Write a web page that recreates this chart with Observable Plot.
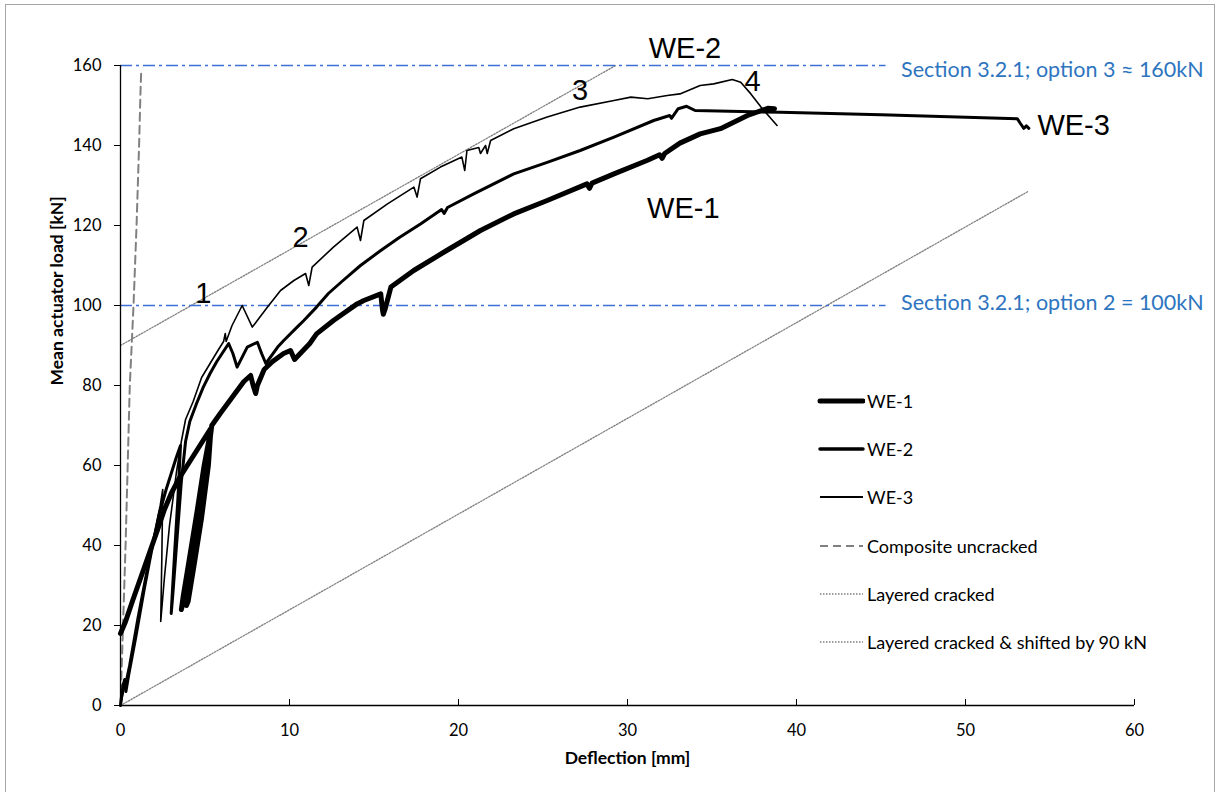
<!DOCTYPE html>
<html>
<head>
<meta charset="utf-8">
<script src="https://cdn.jsdelivr.net/npm/d3@7"></script>
<script src="https://cdn.jsdelivr.net/npm/@observablehq/plot@0.6"></script>
<style>
  body { margin: 0; background: #fff; }
  #wrap { position: relative; width: 1218px; height: 792px; overflow: hidden; font-family: Lato, "Open Sans", sans-serif; background: #fff; }
  #border { position: absolute; left: 5px; top: 4px; width: 1210px; height: 820px; border: 1px solid #a6a6a6; box-sizing: border-box; pointer-events: none; }
  #legend { position: absolute; left: 817px; top: 377px; }
  .row { display: flex; align-items: center; height: 48.2px; font-size: 18px; color: #000; }
  .row svg { margin-right: 2px; }
</style>
</head>
<body>
<div id="wrap"><div id="chart"></div><div id="legend"></div><div id="border"></div></div>
<script>
// ---- axis ticks ----
const xTicks = [0, 10, 20, 30, 40, 50, 60];
const yTicks = [0, 20, 40, 60, 80, 100, 120, 140, 160];

// ---- measured curves [deflection mm, load kN] ----
const we1 = [[0,18],[0.3,21],[0.7,26],[1.2,32],[1.7,38],[2.2,44],[2.6,49],[3.0,53],[3.5,57],[4.1,61],[4.7,65],[5.3,69],
  [5.1,60],[4.7,48],[4.2,35],[3.8,27],[3.6,24],[3.7,27],[4.05,36],[4.55,49],[4.95,60],[5.35,69],
  [5.2,60],[4.8,47],[4.35,35],[4.0,26],[3.9,25],[4.05,30],[4.55,43],[5.0,56],[5.4,70],
  [5.9,73],[6.6,77],[7.3,81],[7.7,82.5],[7.85,80],[8.0,78],[8.1,80],[8.5,84],[9.0,86],[9.65,88],[10.06,88.75],[10.3,86.5],
  [11.2,90.5],[11.6,92.9],[12.6,96.25],[14.0,100.4],[14.4,101.25],[15.4,102.9],[15.5,99],[15.55,97.8],[15.65,99],[16.0,104.6],
  [17.35,108.75],[19.3,113.75],[21.3,118.75],[23.27,122.9],[25.25,126.25],[27.6,130.4],[27.75,129.3],[27.9,130.6],
  [29.2,132.9],[31.15,136.25],[31.9,137.7],[32.05,136.8],[32.2,138],[33.1,140.6],[34.3,142.9],[35.5,144.2],
  [37.1,147.5],[38.3,149.3],[38.7,149.2]];

const we2 = [[0,0],[0.15,5],[0.25,6.5],[0.32,3.5],[0.5,8],[0.9,17],[1.4,29],[1.9,40],[2.3,48],[2.7,54],[3.0,58],[3.3,62],[3.55,65],
  [3.4,52],[3.2,38],[3.05,27],[3.0,23],[3.1,28],[3.35,42],[3.6,56],[3.85,66],[4.1,71],
  [4.5,75.5],[4.9,79.6],[5.3,83],[5.7,86],[6.4,90.5],[6.65,88],[6.9,84.6],[7.5,89.6],[8.1,90.8],[8.35,88],[8.6,85.5],
  [9.3,89.6],[9.66,91.25],[10.45,94.6],[10.85,96.25],[11.6,99.6],[12.3,103],[13.1,106],[14.2,110],[15.4,113.75],
  [16.5,117],[17.75,120.4],[19.0,124],[19.15,123],[19.35,124.5],[20.9,127.9],[23.27,132.9],[25.25,135.8],[27.2,138.75],
  [29.2,142.1],[31.55,146.25],[32.5,147.5],[32.6,146.8],[33.0,149.2],[33.5,149.8],[34.0,148.75],[39.05,148.3],
  [45,147.7],[53.06,146.7],[53.25,145.5],[53.45,144.3],[53.6,144.9],[53.75,144.3]];

const we3 = [[0,0],[0.15,3],[0.5,10],[1.0,22],[1.5,33],[2.0,43],[2.35,50],[2.5,54],[2.45,38],[2.38,21],
  [2.6,32],[2.9,45],[3.3,58],[3.6,66],[3.85,71.5],[4.3,76],[4.8,82],[5.3,85.5],[5.8,89],[6.1,91],[6.2,93],[6.25,91],
  [6.6,95],[7.2,100],[7.8,94.6],[8.7,99.6],[9.47,103.75],[10.26,106.25],[10.95,108],[11.14,105],[11.34,109.6],
  [12.6,114.6],[14.0,119.6],[14.2,116.25],[14.4,121.25],[15.8,125.4],[17.36,129.6],[17.55,127.1],[17.75,131.7],
  [18.93,134.6],[20.2,137.1],[20.37,133.75],[20.5,138.75],[21.2,139.5],[21.3,138],[21.6,140],[21.7,138],[21.9,141.25],
  [23.27,144.2],[25.25,147.1],[27.2,149.6],[29.2,151.25],[30.2,152.1],[31.2,151.7],[32.35,152.5],[33.1,152.9],
  [34.3,155],[35.1,155.4],[36.2,156.5],[36.7,155.8],[37.3,152.9],[37.9,149.6],[38.5,146.7],[38.85,145]];

// ---- reference lines ----
const composite = [[0,0],[0.3,40],[0.55,80],[0.77,100],[0.95,120],[1.1,140],[1.18,153],[1.22,158]];
const layered = [[0,0],[53.7,128.5]];
const layeredShifted = [[0,90],[29.3,160]];

const sections = [
  {y: 160, x2: 45.3, labelY: 158.8, label: "Section 3.2.1; option 3 \u2248 160kN"},
  {y: 100, x2: 45.3, labelY: 100.7, label: "Section 3.2.1; option 2 = 100kN"}
];

const annotations = [
  {t: "WE-2", x: 33.4, y: 164.3},
  {t: "WE-3", x: 56.4, y: 145},
  {t: "WE-1", x: 33.3, y: 124.2},
  {t: "1", x: 4.9, y: 103},
  {t: "2", x: 10.65, y: 117},
  {t: "3", x: 27.2, y: 153.8},
  {t: "4", x: 37.4, y: 156}
];

const legendItems = [
  {name: "WE-1", stroke: "#000", width: 5, dash: null, cap: "round"},
  {name: "WE-2", stroke: "#000", width: 3.5, dash: null, cap: "round"},
  {name: "WE-3", stroke: "#000", width: 2, dash: null, cap: "butt"},
  {name: "Composite uncracked", stroke: "#808080", width: 1.8, dash: "8,5", cap: "butt"},
  {name: "Layered cracked", stroke: "#808080", width: 1.3, dash: "1.5,1.5", cap: "butt"},
  {name: "Layered cracked & shifted by 90 kN", stroke: "#808080", width: 1.3, dash: "1.5,1.5", cap: "butt"}
];

const X = d => d[0], Y = d => d[1];

const chart = Plot.plot({
  width: 1218,
  height: 792,
  marginLeft: 120,
  marginRight: 84,
  marginTop: 65,
  marginBottom: 87,
  style: {fontFamily: "Lato, 'Open Sans', sans-serif", fontSize: "16px", color: "#000", background: "transparent"},
  x: {domain: [0, 60]},
  y: {domain: [0, 160]},
  marks: [
    Plot.axisY({ticks: yTicks, tickSize: 6, tickPadding: 13, label: null, fontSize: 16.5, stroke: "#000"}),
    Plot.axisX({ticks: xTicks, tickSize: 0, tickPadding: 19, label: null, fontSize: 16.5}),
    Plot.ruleX(xTicks.slice(1), {x: d => d, y1: 0, y2: 1.5, stroke: "#000", strokeWidth: 1}),
    Plot.line(layered, {x: X, y: Y, stroke: "#808080", strokeWidth: 1.3, strokeDasharray: "1.5,1.5"}),
    Plot.line(layeredShifted, {x: X, y: Y, stroke: "#808080", strokeWidth: 1.3, strokeDasharray: "1.5,1.5"}),
    Plot.line(composite, {x: X, y: Y, stroke: "#808080", strokeWidth: 2, strokeDasharray: "8,5"}),
    Plot.ruleY(sections, {y: "y", x1: 0, x2: "x2", stroke: "#3d6fd6", strokeWidth: 1.3, strokeDasharray: "12,4,3,4"}),
    Plot.text(sections, {x: "x2", y: "labelY", text: "label", dx: 15, textAnchor: "start", fill: "#2E75C0", fontSize: 21.5}),
    Plot.line(we1, {x: X, y: Y, stroke: "#000", strokeWidth: 5, strokeLinejoin: "round", strokeLinecap: "round"}),
    Plot.line(we2, {x: X, y: Y, stroke: "#000", strokeWidth: 3, strokeLinejoin: "round", strokeLinecap: "round"}),
    Plot.line(we3, {x: X, y: Y, stroke: "#000", strokeWidth: 1.6, strokeLinejoin: "round"}),
    Plot.ruleX([0], {stroke: "#000", strokeWidth: 1.3}),
    Plot.ruleY([0], {stroke: "#000", strokeWidth: 1.3}),
    Plot.text(annotations, {x: "x", y: "y", text: "t", fontSize: 29, fontFamily: "'Liberation Sans', Arial, sans-serif", fill: "#000"}),
    Plot.text(["Deflection [mm]"], {frameAnchor: "bottom", dy: 58, text: d => d, fontWeight: "bold", fontSize: 17.5}),
    Plot.text(["Mean actuator load [kN]"], {frameAnchor: "left", dx: -63, rotate: -90, text: d => d, fontWeight: "bold", fontSize: 17.5})
  ]
});
document.getElementById("chart").appendChild(chart);

// ---- legend (HTML overlay) ----
const legend = d3.select("#legend");
for (const item of legendItems) {
  const row = legend.append("div").attr("class", "row");
  const svg = row.append("svg").attr("width", 48).attr("height", 10);
  svg.append("line").attr("x1", 3).attr("x2", 46).attr("y1", 5).attr("y2", 5)
    .attr("stroke", item.stroke).attr("stroke-width", item.width)
    .attr("stroke-linecap", item.cap)
    .attr("stroke-dasharray", item.dash);
  row.append("span").text(item.name);
}
</script>
</body>
</html>
